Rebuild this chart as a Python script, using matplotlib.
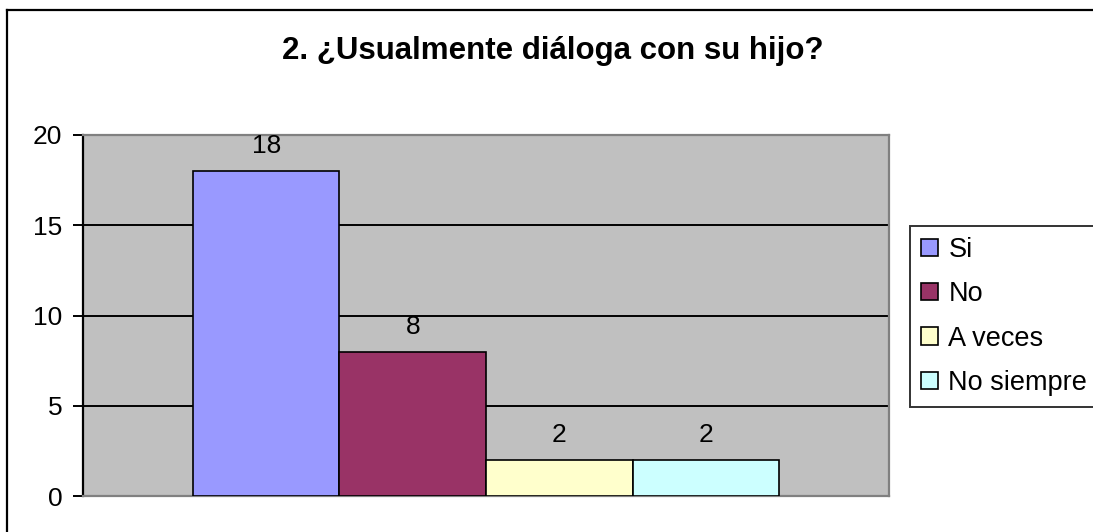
import matplotlib.pyplot as plt
from matplotlib.lines import Line2D

plt.rcParams['font.family'] = ['Liberation Sans', 'DejaVu Sans']

# datos
categorias = ['Si', 'No', 'A veces', 'No siempre']
valores = [18, 8, 2, 2]
colores = ['#9999FF', '#993366', '#FFFFCC', '#CCFFFF']
titulo = '2. ¿Usualmente diáloga con su hijo?'

W, H = 1093, 532
fig = plt.figure(figsize=(W / 100, H / 100), dpi=100)

# borde del grafico (solo arriba e izquierda se ven)
fig.add_artist(Line2D([7 / W, 1], [1 - 10 / H, 1 - 10 / H], transform=fig.transFigure,
                      color='black', linewidth=1.6))
fig.add_artist(Line2D([7 / W, 7 / W], [0, 1 - 10 / H], transform=fig.transFigure,
                      color='black', linewidth=1.6))

ax = fig.add_axes([83 / W, 1 - 496 / H, 806 / W, 361 / H])
ax.set_facecolor('#C0C0C0')

pos = list(range(len(valores)))
barras = ax.bar(pos, valores, width=1.0, color=colores, edgecolor='black',
                linewidth=1.2, zorder=3)
for p, v in zip(pos, valores):
    ax.text(p, v + 0.7, str(v), ha='center', va='bottom', fontsize=19, zorder=4)

ax.set_xlim(-1.25, 4.25)
ax.set_ylim(0, 20)
ax.set_yticks([0, 5, 10, 15, 20])
ax.set_xticks([])
ax.tick_params(axis='y', labelsize=19, length=7, width=1.4, direction='out', pad=8)
ax.yaxis.grid(True, color='black', linewidth=1.4, zorder=1)
ax.set_axisbelow(True)

for lado in ['top', 'right', 'bottom']:
    ax.spines[lado].set_color('#808080')
    ax.spines[lado].set_linewidth(1.6)
ax.spines['left'].set_color('black')
ax.spines['left'].set_linewidth(1.6)

fig.text(553 / W, 1 - 51 / H, titulo, ha='center', va='center',
         fontsize=22.5, fontweight='bold')

leg = fig.legend(handles=barras, labels=categorias, loc='upper left',
                 bbox_to_anchor=(910 / W, 1 - 226 / H),
                 fontsize=19.5, frameon=True, fancybox=False,
                 handlelength=0.62, handleheight=0.62, handletextpad=0.4,
                 labelspacing=0.68, borderpad=0.4, borderaxespad=0)
leg.get_frame().set_edgecolor('black')
leg.get_frame().set_linewidth(1.4)

plt.savefig('out.png', dpi=100)
